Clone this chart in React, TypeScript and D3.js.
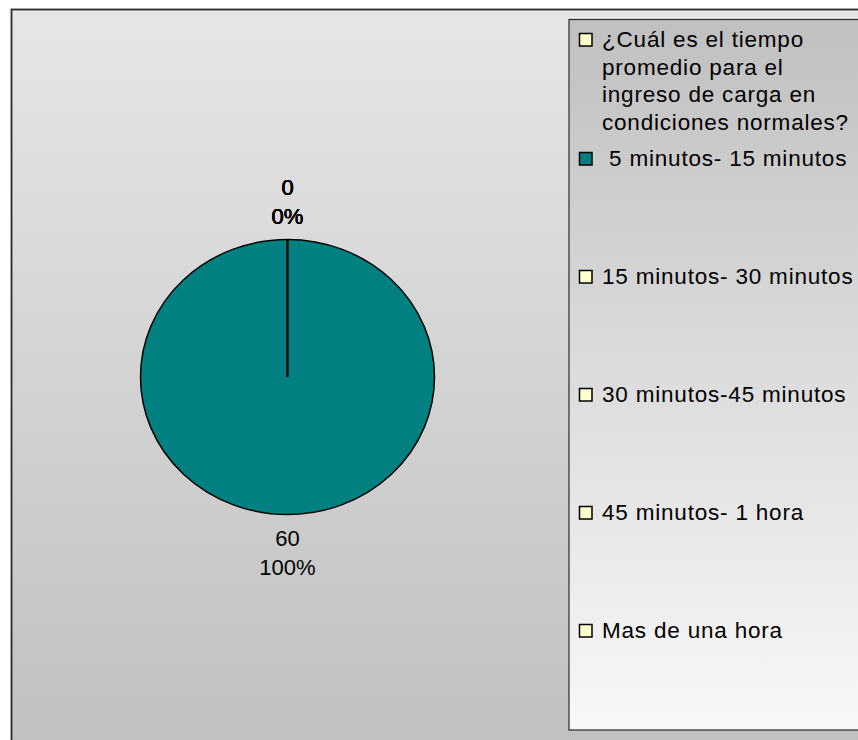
import React from 'react';
import * as d3 from 'd3';

// Categories as shown in the legend (first entry wraps over four lines)
const categoryLines: string[][] = [
  ['¿Cuál es el tiempo', 'promedio para el', 'ingreso de carga en', 'condiciones normales?'],
  [' 5 minutos- 15 minutos'],
  ['15 minutos- 30 minutos'],
  ['30 minutos-45 minutos'],
  ['45 minutos- 1 hora'],
  ['Mas de una hora'],
];
const values: number[] = [0, 60, 0, 0, 0, 0];
const colors: string[] = ['#ffffcc', '#008080', '#ffffcc', '#ffffcc', '#ffffcc', '#ffffcc'];

const W = 858, H = 740;
const FONT = "'Liberation Sans', Arial, sans-serif";

export default function App() {
  // pie geometry (slightly squashed ellipse like the original)
  const cx = 287.5, cy = 377, rx = 147, ry = 137.5;
  const total = d3.sum(values);

  const pie = d3.pie<number>().sort(null).value(d => d);
  const arcs = pie(values);
  const arc = d3.arc<d3.PieArcDatum<number>>().innerRadius(0).outerRadius(rx);

  const labelPos = (a: d3.PieArcDatum<number>) => {
    const mid = (a.startAngle + a.endAngle) / 2;
    const off = 38;
    return [cx + Math.sin(mid) * (rx + off), cy - Math.cos(mid) * (ry + off)];
  };

  const pct = d3.format('.0%');

  // legend layout
  const legendX = 569, legendY = 19.5;
  const itemY = (i: number) => (i === 0 ? 47 : 166 + (i - 1) * 118);
  const lineH = 27.5;

  return (
    <svg width={W} height={H} style={{ position: 'absolute', left: 0, top: 0, background: '#fff' }}>
      <defs>
        <linearGradient id="bgGrad" x1="0" y1="0" x2="0" y2="1">
          <stop offset="0" stopColor="#e6e6e6" />
          <stop offset="1" stopColor="#c0c0c0" />
        </linearGradient>
        <linearGradient id="legGrad" x1="0" y1="0" x2="0" y2="1">
          <stop offset="0" stopColor="#c0c0c0" />
          <stop offset="1" stopColor="#f8f8f8" />
        </linearGradient>
      </defs>

      {/* chart area */}
      <rect x={11.5} y={9.5} width={870} height={740} fill="url(#bgGrad)" stroke="#2a2a2a" strokeWidth={1.8} />

      {/* pie */}
      <g transform={`translate(${cx},${cy}) scale(1,${ry / rx})`}>
        {arcs.map((a, i) => (
          <path key={i} d={arc(a) || ''} fill={colors[i]} stroke="#000" strokeWidth={1.5}
            vectorEffect="non-scaling-stroke" />
        ))}
      </g>

      {/* data labels */}
      {arcs.map((a, i) => {
        const [lx, ly] = labelPos(a);
        return (
          <text key={i} x={lx} textAnchor="middle" fontFamily={FONT} fontSize={22} fill="#000">
            <tspan x={lx} y={ly - 7}>{values[i]}</tspan>
            <tspan x={lx} y={ly + 22}>{pct(total ? values[i] / total : 0)}</tspan>
          </text>
        );
      })}

      {/* legend */}
      <rect x={legendX} y={legendY} width={320} height={710.5} fill="url(#legGrad)" stroke="#2a2a2a" strokeWidth={1.2} />
      {categoryLines.map((lines, i) => {
        const y0 = itemY(i);
        return (
          <g key={i}>
            <rect x={579.5} y={y0 - 13.5} width={12.5} height={12.5} fill={colors[i]} stroke="#000" strokeWidth={1.5} />
            <text fontFamily={FONT} fontSize={22.5} letterSpacing={0.8} fill="#000" style={{ whiteSpace: 'pre' }}>
              {lines.map((l, j) => (
                <tspan key={j} x={602} y={y0 + j * lineH}>{l}</tspan>
              ))}
            </text>
          </g>
        );
      })}
    </svg>
  );
}
